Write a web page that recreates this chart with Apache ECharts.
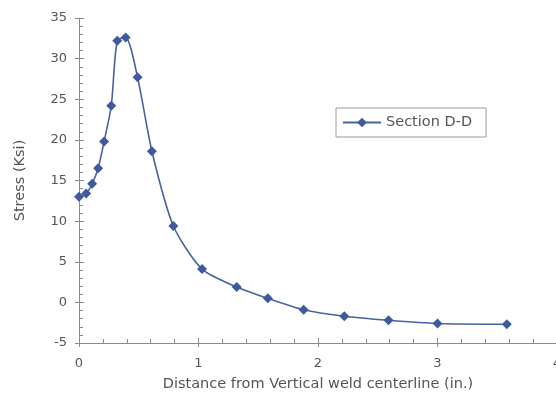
<!DOCTYPE html>
<html><head><meta charset="utf-8">
<script src="https://cdn.jsdelivr.net/npm/echarts@6/dist/echarts.min.js"></script>
<style>html,body{margin:0;padding:0;background:#fff}#c{width:556px;height:411px}</style>
</head><body><div id="c"></div>
<script>
var distance = [0, 0.06, 0.11, 0.16, 0.21, 0.27, 0.32, 0.39, 0.49, 0.61, 0.79, 1.03, 1.32, 1.58, 1.88, 2.22, 2.59, 3.0, 3.58];
var stress = [13.0, 13.4, 14.6, 16.5, 19.8, 24.2, 32.2, 32.6, 27.7, 18.6, 9.4, 4.1, 1.9, 0.5, -0.9, -1.7, -2.2, -2.6, -2.7];
var seriesName = 'Section D-D';
var xTitle = 'Distance from Vertical weld centerline (in.)';
var yTitle = 'Stress (Ksi)';

var pts = distance.map(function (d, i) { return [d, stress[i]]; });
var axisCol = '#8a8a8a', txt = '#555', blue = '#4662a2';
var font = 'DejaVu Sans';
var chart = echarts.init(document.getElementById('c'));
chart.setOption({
  animation: false,
  textStyle: { fontFamily: font },
  grid: { left: 79, right: -1, top: 18, bottom: 68, containLabel: false, outerBoundsMode: 'none' },
  legend: {
    left: 336, top: 108, orient: 'vertical', padding: [7, 14, 7, 6],
    borderColor: '#9a9a9a', borderWidth: 1, borderRadius: 0,
    itemWidth: 38, itemHeight: 12, itemGap: 4,
    textStyle: { color: txt, fontSize: 14.5, fontFamily: font },
    data: [seriesName]
  },
  xAxis: [{
    type: 'value', min: 0, max: 4, interval: 1,
    name: xTitle, nameLocation: 'middle', nameGap: 34,
    nameTextStyle: { color: txt, fontSize: 14.5, fontFamily: font },
    axisLine: { onZero: false, lineStyle: { color: axisCol } },
    axisTick: { inside: true, length: 5, lineStyle: { color: axisCol } },
    minorTick: { show: true, splitNumber: 5, length: 4, lineStyle: { color: axisCol } },
    axisLabel: { color: txt, fontSize: 13, margin: 14 },
    splitLine: { show: false }
  }, {
    type: 'value', min: 0, max: 4, interval: 1, position: 'bottom',
    axisLine: { show: false, onZero: false },
    axisTick: { inside: false, length: 4, lineStyle: { color: axisCol } },
    axisLabel: { show: false }, splitLine: { show: false }
  }],
  yAxis: [{
    type: 'value', min: -5, max: 35, interval: 5,
    name: yTitle, nameLocation: 'middle', nameGap: 51,
    nameTextStyle: { color: txt, fontSize: 14.5, fontFamily: font },
    axisLine: { show: true, onZero: false, lineStyle: { color: axisCol } },
    axisTick: { show: true, inside: true, length: 5, lineStyle: { color: axisCol } },
    minorTick: { show: true, splitNumber: 5, length: 4, lineStyle: { color: axisCol } },
    axisLabel: { color: txt, fontSize: 13, margin: 12 },
    splitLine: { show: false }
  }, {
    type: 'value', min: -5, max: 35, interval: 5, position: 'left',
    axisLine: { show: false, onZero: false },
    axisTick: { show: true, inside: false, length: 4, lineStyle: { color: axisCol } },
    axisLabel: { show: false }, splitLine: { show: false }
  }],
  series: [{
    name: seriesName, type: 'line', data: pts, smooth: 0.25,
    symbol: 'diamond', symbolSize: 10,
    lineStyle: { color: blue, width: 1.6 },
    itemStyle: { color: '#3f5a9c' }
  }]
});
</script></body></html>
